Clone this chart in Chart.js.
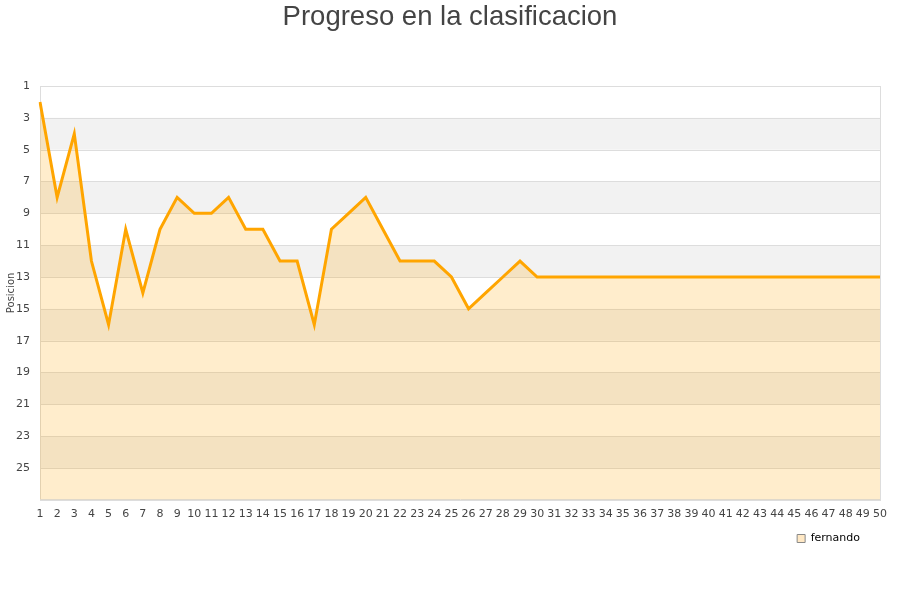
<!DOCTYPE html>
<html>
<head>
<meta charset="utf-8">
<script src="https://cdn.jsdelivr.net/npm/chart.js@4.4.0/dist/chart.umd.min.js"></script>
<style>
  html, body { margin: 0; padding: 0; background: #fff; }
  #wrap { width: 900px; height: 600px; }
</style>
</head>
<body>
<div id="wrap"><canvas id="chart"></canvas></div>
<script>
const jornadas = Array.from({ length: 50 }, (_, i) => String(i + 1));
const posiciones = [2, 8, 4, 12, 16, 10, 14, 10, 8, 9,
                    9, 8, 10, 10, 12, 12, 16, 10, 9, 8,
                    10, 12, 12, 12, 13, 15, 14, 13, 12, 13,
                    13, 13, 13, 13, 13, 13, 13, 13, 13, 13,
                    13, 13, 13, 13, 13, 13, 13, 13, 13, 13];
const jugador = 'fernando';

// alternating grey bands + frame around plot
const bands = {
  id: 'bands',
  afterLayout(chart) {
    // legend sits a bit in from the right edge
    chart.legend.left -= 28;
    chart.legend.right -= 28;
  },
  beforeDatasetsDraw(chart) {
    const { ctx, chartArea: a, scales: { y } } = chart;
    ctx.save();
    ctx.fillStyle = '#f2f2f2';
    for (let v = 3; v < 27; v += 4) {
      const y1 = y.getPixelForValue(v), y2 = y.getPixelForValue(v + 2);
      ctx.fillRect(a.left, y1, a.right - a.left, y2 - y1);
    }
    ctx.strokeStyle = '#dddddd';
    ctx.lineWidth = 1;
    for (let v = 3; v < 27; v += 2) {
      const py = Math.round(y.getPixelForValue(v)) + 0.5;
      ctx.beginPath(); ctx.moveTo(a.left, py); ctx.lineTo(a.right, py); ctx.stroke();
    }
    ctx.strokeRect(Math.round(a.left) + 0.5, Math.round(a.top) + 0.5, Math.round(a.right - a.left), Math.round(a.bottom - a.top));
    ctx.restore();
  }
};

new Chart(document.getElementById('chart'), {
  type: 'line',
  data: {
    labels: jornadas,
    datasets: [{
      label: jugador,
      data: posiciones,
      borderColor: '#ffa500',
      borderWidth: 3,
      backgroundColor: 'rgba(255, 165, 0, 0.2)',
      fill: { value: 27 },
      pointRadius: 0,
      tension: 0
    }]
  },
  options: {
    responsive: true,
    maintainAspectRatio: false,
    animation: false,
    layout: { padding: { left: 0, right: 0, top: 0, bottom: 46 } },
    plugins: {
      title: {
        display: true,
        text: 'Progreso en la clasificacion',
        color: '#444',
        font: { family: 'Liberation Sans', size: 27.5, weight: 'normal' },
        padding: { top: 1, bottom: 52 }
      },
      legend: {
        position: 'bottom',
        align: 'end',
        labels: {
          color: '#222',
          font: { family: 'DejaVu Sans', size: 11 },
          boxWidth: 8,
          boxHeight: 8,
          padding: 12,
          generateLabels: () => [{
            text: jugador,
            fillStyle: '#ffe8c4',
            strokeStyle: '#888',
            lineWidth: 1,
            datasetIndex: 0
          }]
        }
      },
      tooltip: { enabled: false }
    },
    scales: {
      x: {
        offset: false,
        grid: { display: false },
        border: { color: '#ddd' },
        ticks: {
          color: '#444',
          font: { family: 'DejaVu Sans', size: 11 },
          maxRotation: 0,
          autoSkip: false,
          padding: 0
        }
      },
      y: {
        reverse: true,
        min: 1,
        max: 27,
        afterFit: (s) => { s.width = 40; },
        grid: { display: false },
        border: { color: '#ddd' },
        title: {
          display: true,
          text: 'Posicion',
          color: '#444',
          font: { family: 'DejaVu Sans', size: 10 },
          padding: { top: 5, bottom: 0 }
        },
        ticks: {
          stepSize: 2,
          color: '#444',
          font: { family: 'DejaVu Sans', size: 11 },
          padding: 2,
          callback: (v) => (v === 27 ? '' : v)
        }
      },
      yRight: {
        position: 'right',
        afterFit: (s) => { s.width = 20; },
        grid: { display: false },
        border: { display: false },
        ticks: { display: false }
      }
    }
  },
  plugins: [bands]
});
</script>
</body>
</html>
